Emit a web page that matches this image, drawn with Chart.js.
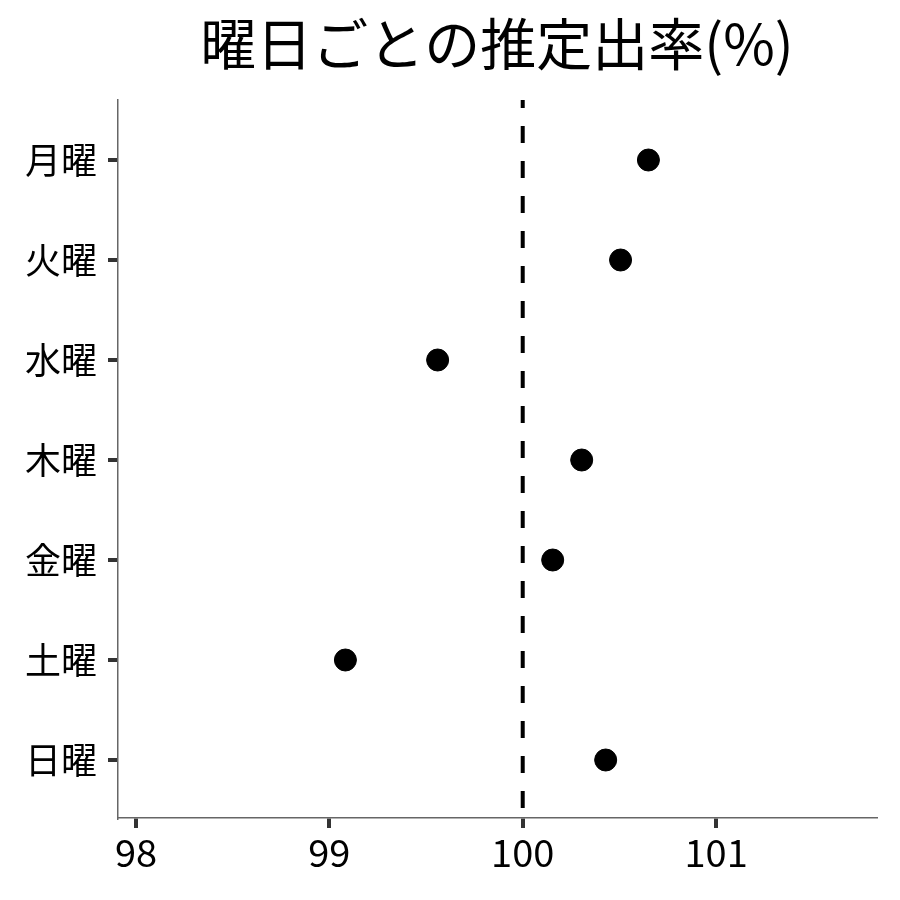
<!DOCTYPE html>
<html><head><meta charset="utf-8">
<script src="https://cdn.jsdelivr.net/npm/chart.js@4"></script>
<style>html,body{margin:0;padding:0;background:#fff}#wrap{width:900px;height:900px}</style>
</head><body><div id="wrap"><canvas id="c" width="900" height="900"></canvas></div>
<script>
const days = ['月曜','火曜','水曜','木曜','金曜','土曜','日曜'];
const rates = [100.65, 100.506, 99.56, 100.305, 100.155, 99.083, 100.429];
const xTicks = [98, 99, 100, 101];
const refValue = 100;
const titleText = '曜日ごとの推定出率(%)';

const FONT = "'Noto Sans CJK JP', 'Noto Sans', sans-serif";
const pts = days.map((d,i)=>({x:rates[i], y:i}));

new Chart(document.getElementById('c'), {
  type: 'scatter',
  data: {
    datasets: [
      { data: pts, backgroundColor:'#000', borderColor:'#000', pointRadius:11, pointHoverRadius:11, order:1 },
      { type:'line', data:[{x:refValue,y:-0.6},{x:refValue,y:6.58}], borderColor:'#000', borderWidth:4,
        borderDash:[17,18], borderDashOffset:9, pointRadius:0, fill:false, order:2 }
    ]
  },
  options: {
    responsive:false, animation:false, devicePixelRatio:1,
    layout:{ padding:{left:0,right:24,top:0,bottom:0} },
    plugins:{
      legend:{display:false}, tooltip:{enabled:false},
      title:{ display:true, text:titleText, fullSize:false, color:'#000',
        font:{family:FONT, size:56, weight:'normal'}, padding:{top:10,bottom:22.8} }
    },
    scales:{
      x:{ type:'linear', min:97.907, max:101.827,
        afterBuildTicks:(s)=>{ s.ticks = xTicks.map(v=>({value:v})); },
        afterFit:(s)=>{ s.height = 82; },
        border:{display:true,color:'#666',width:1.5},
        grid:{drawOnChartArea:false, drawTicks:true, tickLength:10, tickColor:'#333', tickWidth:4, lineWidth:4, color:'#333'},
        ticks:{ color:'#000', font:{family:FONT,size:38}, padding:2, autoSkip:false, maxRotation:0 }
      },
      y:{ type:'linear', min:-0.6, max:6.58, reverse:true,
        afterBuildTicks:(s)=>{ s.ticks = days.map((d,i)=>({value:i})); },
        afterFit:(s)=>{ s.width = 118; },
        border:{display:true,color:'#666',width:1.5},
        grid:{drawOnChartArea:false, drawTicks:true, tickLength:10, tickColor:'#333', tickWidth:4, lineWidth:4, color:'#333'},
        ticks:{ color:'#000', font:{family:FONT,size:36}, padding:11, autoSkip:false,
          callback:(v)=>days[v] }
      }
    }
  }
});
</script></body></html>
